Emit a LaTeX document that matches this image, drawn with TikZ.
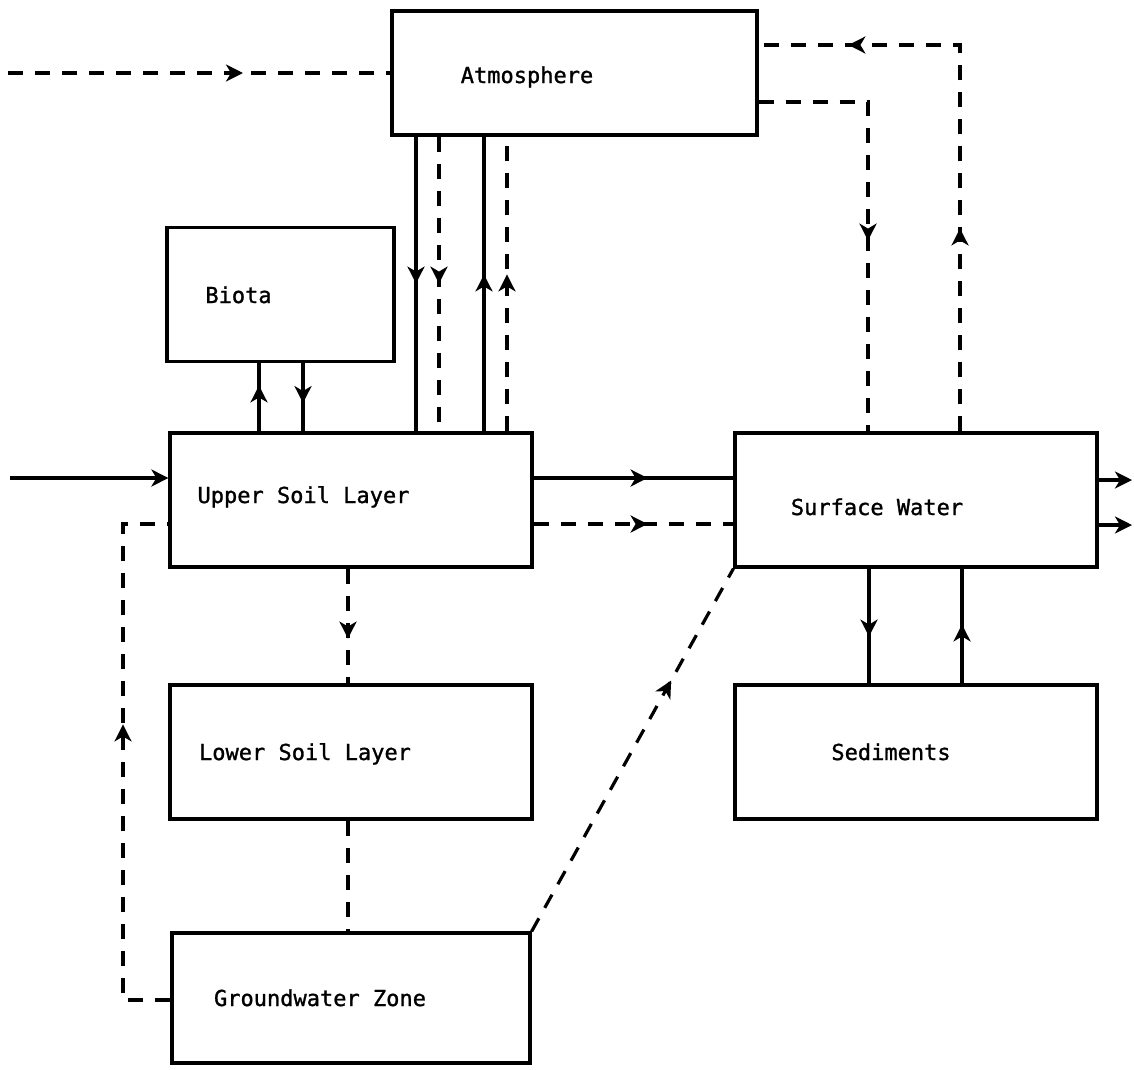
\documentclass[tikz,border=0pt]{standalone}
\usepackage{fontspec}
\setmonofont[FakeBold=1.2]{DejaVu Sans Mono}
\usetikzlibrary{arrows.meta,decorations.markings}
\begin{document}
\begin{tikzpicture}[x=1pt,y=-1pt,
  >={Stealth[length=17pt,width=17pt,inset=5pt]},
  box/.style={draw,line width=3.2pt,inner sep=0pt,anchor=center},
  lbl/.style={font=\ttfamily\fontsize{22}{26}\selectfont,inner sep=0pt,text height=16pt,text depth=0pt,anchor=center},
  flow/.style={line width=3.2pt},
  dflow/.style={line width=3.2pt,dash pattern=on 15pt off 12pt},
  marrow/.style={postaction={decorate},decoration={markings,mark=at position #1 with {\arrow{>}}}}]
\useasboundingbox[fill=white] (0,0) rectangle (1134,1069);

% boxes
\node[box,minimum width=365pt,minimum height=124pt] (atm) at (574.5,73) {};
\node[box,minimum width=227pt,minimum height=134pt] (bio) at (280.5,294.5) {};
\node[box,minimum width=362pt,minimum height=134pt] (usl) at (351,500) {};
\node[box,minimum width=362pt,minimum height=134pt] (lsl) at (351,752) {};
\node[box,minimum width=358pt,minimum height=130pt] (gwz) at (351,998) {};
\node[box,minimum width=362pt,minimum height=134pt] (sw) at (916,500) {};
\node[box,minimum width=362pt,minimum height=134pt] (sed) at (916,752) {};

% labels
\node[lbl] (tatm) at (527,75) {Atmosphere};
\node[lbl] (tbio) at (238.5,295) {Biota};
\node[lbl] (tusl) at (303.5,495) {Upper Soil Layer};
\node[lbl] (tlsl) at (305,752) {Lower Soil Layer};
\node[lbl] (tgwz) at (320,998) {Groundwater Zone};
\node[lbl] (tsw) at (877,507) {Surface Water};
\node[lbl] (tsed) at (891,752) {Sediments};

% free ends and corners
\coordinate (inA) at (8,73);
\coordinate (inU) at (10,478);
\coordinate (outS1) at (1132,480);
\coordinate (outS2) at (1132,525);
\coordinate (gL1) at (123,1000);
\coordinate (gL2) at (123,524);
\coordinate (r1) at (960,45);
\coordinate (r2) at (868,102);

% connectors
\draw[dflow,marrow=235pt] (inA) -- (atm.west);
\draw[flow,marrow=147pt] (atm.south -| 416,0) -- (usl.north -| 416,0);
\draw[dflow,marrow=147pt] (atm.south -| 439,0) -- (usl.north -| 439,0);
\draw[flow,marrow=157pt] (usl.north -| 484,0) -- (atm.south -| 484,0);
\draw[dflow,marrow=157pt] (usl.north -| 507,0) -- (atm.south -| 507,0);
\draw[flow,marrow=46pt] (usl.north -| 259,0) -- (bio.south -| 259,0);
\draw[flow,marrow=40pt] (bio.south -| 303,0) -- (usl.north -| 303,0);
\draw[flow,->] (inU) -- (inU -| usl.west);
\draw[flow,marrow=114pt] (usl.east |- 0,478) -- (sw.west |- 0,478);
\draw[dflow,marrow=114pt] (usl.east |- 0,524) -- (sw.west |- 0,524);
\draw[flow,->] (sw.east |- outS1) -- (outS1);
\draw[flow,->] (sw.east |- outS2) -- (outS2);
\draw[dflow,marrow=70pt] (usl.south -| 348,0) -- (lsl.north -| 348,0);
\draw[dflow] (lsl.south -| 348,0) -- (gwz.north -| 348,0);
\draw[dflow,marrow=323pt] (gwz.west |- gL1) -- (gL1) -- (gL2) -- (usl.west |- gL2);
\draw[dflow,marrow=287pt] (gwz.north east) -- (sw.south west);
\draw[dflow,postaction={decorate},decoration={markings,
   mark=at position 203pt with {\arrow{>}},
   mark=at position 498pt with {\arrow{>}}}]
   (sw.north -| r1) -- (r1) -- (atm.east |- r1);
\draw[dflow,marrow=248pt] (atm.east |- r2) -- (r2) -- (sw.north -| r2);
\draw[flow,marrow=68pt] (sw.south -| 869,0) -- (sed.north -| 869,0);
\draw[flow,marrow=59pt] (sed.north -| 962,0) -- (sw.south -| 962,0);
\end{tikzpicture}
\end{document}
